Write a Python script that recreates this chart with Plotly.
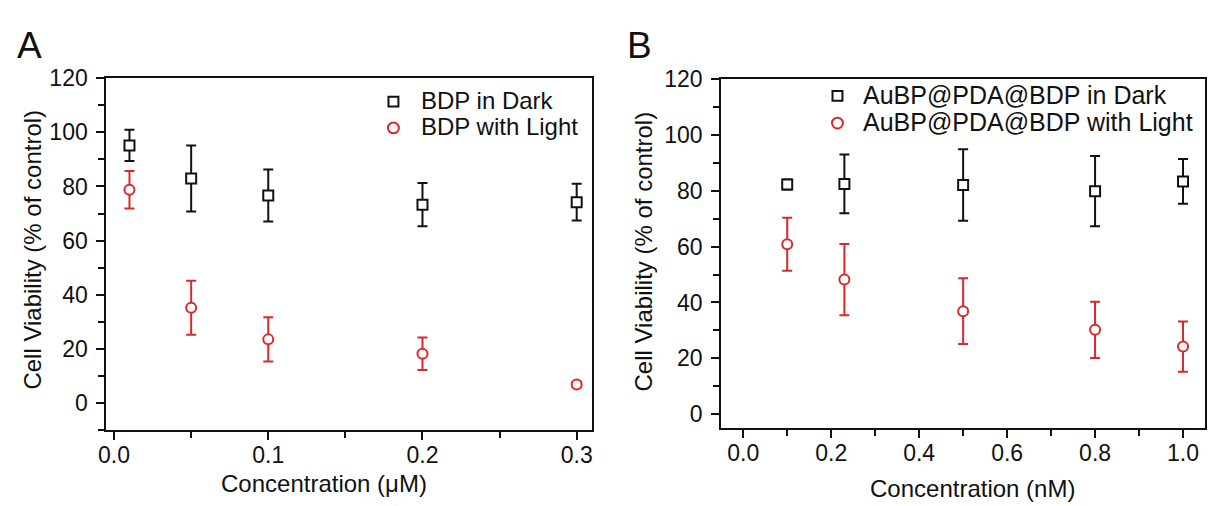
import plotly.graph_objects as go

# ---------------- data ----------------
conc_A = [0.01, 0.05, 0.1, 0.2, 0.3]
dark_A = [95.2, 83.0, 76.7, 73.3, 74.2]
dark_A_sd = [5.8, 12.2, 9.6, 8.0, 6.8]
light_A = [78.8, 35.2, 23.5, 18.2, 6.8]
light_A_sd = [6.9, 10.0, 8.2, 6.0, 1.0]

conc_B = [0.1, 0.23, 0.5, 0.8, 1.0]
dark_B = [82.3, 82.5, 82.1, 79.9, 83.4]
dark_B_sd = [1.8, 10.5, 12.8, 12.6, 8.0]
light_B = [60.9, 48.2, 36.9, 30.2, 24.2]
light_B_sd = [9.5, 12.8, 11.8, 10.1, 9.0]

names_A = ["BDP in Dark", "BDP with Light"]
names_B = ["AuBP@PDA@BDP in Dark", "AuBP@PDA@BDP with Light"]
xtitle_A = "Concentration (\u03bcM)"
xtitle_B = "Concentration (nM)"
ytitle = "Cell Viability (% of control)"
panel_labels = ["A", "B"]

# ---------------- style ----------------
W, H = 1208, 506
BLACK = "#111111"
RED = "#d8292b"
FONT = "Liberation Sans, Arial, sans-serif"
TICK_SIZE = 23
TITLE_SIZE = 24


def px(x):
    return x / W


def py(y):
    return 1 - y / H


fig = go.Figure()


def add_series(x, y, sd, color, symbol, xa, ya, name):
    fig.add_trace(go.Scatter(
        x=x, y=y, mode="markers", name=name, showlegend=False,
        xaxis=xa, yaxis=ya,
        marker=dict(symbol=symbol, size=10, color="white",
                    line=dict(color=color, width=2)),
        error_y=dict(type="data", array=sd, visible=True,
                     color=color, thickness=2, width=5),
    ))


add_series(conc_A, dark_A, dark_A_sd, BLACK, "square", "x", "y", names_A[0])
add_series(conc_A, light_A, light_A_sd, RED, "circle", "x", "y", names_A[1])
add_series(conc_B, dark_B, dark_B_sd, BLACK, "square", "x2", "y2", names_B[0])
add_series(conc_B, light_B, light_B_sd, RED, "circle", "x2", "y2", names_B[1])

axis_common = dict(
    showline=True, linewidth=2, linecolor=BLACK, mirror=True,
    showgrid=False, zeroline=False,
    ticks="outside", ticklen=8, tickwidth=2, tickcolor=BLACK,
    tickfont=dict(family=FONT, size=TICK_SIZE, color=BLACK),
)

fig.update_layout(
    width=W, height=H,
    margin=dict(l=0, r=0, t=0, b=0),
    paper_bgcolor="white", plot_bgcolor="white",
    showlegend=False,
    xaxis=dict(domain=[px(99), px(588)], range=[-0.005, 0.31],
               tick0=0, dtick=0.1, tickformat=".1f", anchor="y",
               ticklabelstandoff=-5,
               minor=dict(dtick=0.05, ticks="outside", ticklen=6,
                          tickwidth=2, tickcolor=BLACK),
               **axis_common),
    yaxis=dict(domain=[py(428), py(67)], range=[-10, 120],
               tick0=0, dtick=20, anchor="x", ticklabelstandoff=4,
               minor=dict(dtick=10, ticks="outside", ticklen=6,
                          tickwidth=2, tickcolor=BLACK),
               **axis_common),
    xaxis2=dict(domain=[px(718), px(1205)], range=[-0.05, 1.05],
                tick0=0, dtick=0.2, tickformat=".1f", anchor="y2",
                ticklabelstandoff=-5,
                minor=dict(dtick=0.1, ticks="outside", ticklen=6,
                           tickwidth=2, tickcolor=BLACK),
                **axis_common),
    yaxis2=dict(domain=[py(426), py(68)], range=[-5, 120],
                tick0=0, dtick=20, anchor="x2", ticklabelstandoff=4,
                minor=dict(dtick=10, ticks="outside", ticklen=6,
                           tickwidth=2, tickcolor=BLACK),
                **axis_common),
)

annos = []
annos.append(dict(text=xtitle_A, x=px(318), y=py(483), xref="paper", yref="paper",
                  showarrow=False, xanchor="center", yanchor="middle",
                  font=dict(family=FONT, size=TITLE_SIZE, color=BLACK)))
annos.append(dict(text=xtitle_B, x=px(971), y=py(488), xref="paper", yref="paper",
                  showarrow=False, xanchor="center", yanchor="middle",
                  font=dict(family=FONT, size=TITLE_SIZE, color=BLACK)))
annos.append(dict(text=ytitle, x=px(25), y=py(243), xref="paper", yref="paper",
                  showarrow=False, xanchor="center", yanchor="middle", textangle=-90,
                  font=dict(family=FONT, size=TITLE_SIZE, color=BLACK)))
annos.append(dict(text=ytitle, x=px(640), y=py(245), xref="paper", yref="paper",
                  showarrow=False, xanchor="center", yanchor="middle", textangle=-90,
                  font=dict(family=FONT, size=TITLE_SIZE, color=BLACK)))
annos.append(dict(text=panel_labels[0], x=px(7), y=py(33), xref="paper", yref="paper",
                  showarrow=False, xanchor="left", yanchor="middle",
                  font=dict(family=FONT, size=37, color=BLACK)))
annos.append(dict(text=panel_labels[1], x=px(621), y=py(33), xref="paper", yref="paper",
                  showarrow=False, xanchor="left", yanchor="middle",
                  font=dict(family=FONT, size=37, color=BLACK)))

shapes = []
legend_rows = [
    (names_A, 388, 414, [90, 117], 24),
    (names_B, 835, 859, [84, 112], 25),
]
for names, mx, tx, rows, fs in legend_rows:
    for i, (nm, ry) in enumerate(zip(names, rows)):
        annos.append(dict(text=nm, x=px(tx), y=py(ry), xref="paper", yref="paper",
                          showarrow=False, xanchor="left", yanchor="middle",
                          font=dict(family=FONT, size=fs, color=BLACK)))
        if i == 0:
            shapes.append(dict(type="rect", xref="paper", yref="paper",
                               x0=px(mx - 5), x1=px(mx + 5), y0=py(ry + 6), y1=py(ry - 4),
                               line=dict(color=BLACK, width=2), fillcolor="white"))
        else:
            shapes.append(dict(type="circle", xref="paper", yref="paper",
                               x0=px(mx - 5.5), x1=px(mx + 5.5), y0=py(ry + 6.5), y1=py(ry - 4.5),
                               line=dict(color=RED, width=2), fillcolor="white"))

fig.update_layout(annotations=annos, shapes=shapes)

fig.write_html("out.html")
